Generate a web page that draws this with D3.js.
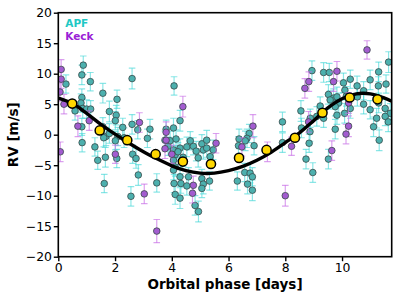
<!DOCTYPE html>
<html>
<head>
<meta charset="utf-8">
<script src="https://cdn.jsdelivr.net/npm/d3@7"></script>
<style>
  body { margin: 0; background: #fff; }
  text { font-family: "DejaVu Sans", sans-serif; }
</style>
</head>
<body>
<div class="chart"></div>
<script>
// APF velocities: [phase (days), rv (m/s), error]
var apfData = [
  [0.27, 8.3, 1.5], [0.88, 11.4, 1.5], [0.83, 9.8, 1.6], [1.13, 8.7, 1.5], [2.60, 9.2, 1.7],
  [1.57, 6.8, 1.6], [2.07, 5.8, 1.5], [0.83, 6.1, 1.4], [0.80, 5.2, 1.5], [0.86, 4.3, 1.6],
  [1.00, 4.2, 1.5], [1.14, 4.2, 1.4], [1.80, 3.8, 1.7], [2.04, 3.2, 1.6], [2.01, 2.3, 1.5],
  [2.27, 1.2, 1.5], [2.60, 1.7, 1.6], [2.80, 0.8, 1.5], [0.83, 1.3, 1.4], [1.57, 1.3, 1.5],
  [1.68, -0.3, 1.5], [1.80, 0.2, 1.6], [2.10, -0.3, 1.5], [0.84, -1.3, 1.5], [1.39, -4.2, 1.5],
  [1.66, -3.7, 1.6], [2.06, -3.9, 1.5], [1.62, -8.0, 1.5], [2.56, -10.1, 1.6], [2.82, -6.6, 1.7],
  [2.62, -3.2, 1.5], [2.74, -3.9, 1.6], [1.60, -0.5, 1.5], [2.01, -1.0, 1.5], [0.59, 3.9, 1.5],
  [1.29, -2.0, 1.5], [2.32, -0.5, 1.6], [3.14, -0.6, 1.5], [3.23, 0.9, 1.6], [3.76, -0.9, 1.5],
  [4.06, -2.5, 1.6], [4.12, -3.3, 1.5], [4.06, -4.2, 1.6], [4.29, -2.2, 1.5], [4.53, -2.0, 1.6],
  [4.76, -1.9, 1.4], [5.06, -1.5, 1.5], [5.23, -0.9, 1.6], [5.11, -2.5, 1.5], [5.23, -2.2, 1.5],
  [5.35, -3.6, 1.6], [4.12, -5.3, 1.5], [4.06, -5.8, 1.6], [4.29, -6.9, 1.6], [4.59, -6.9, 1.5],
  [4.08, -8.0, 1.5], [4.32, -8.0, 1.6], [4.53, -8.4, 1.5], [5.06, -7.2, 1.5], [5.11, -8.1, 1.6],
  [5.33, -7.6, 1.5], [5.06, -8.8, 1.5], [4.12, -9.8, 1.6], [4.29, -10.4, 1.7], [4.82, -11.6, 1.6],
  [4.94, -12.6, 1.7], [3.47, -7.9, 1.5], [4.08, 8.0, 1.5], [4.29, 2.3, 1.7], [4.06, 1.1, 1.6],
  [3.80, 0.9, 1.5], [3.87, -1.9, 1.5], [3.94, -1.0, 1.6], [4.22, -2.8, 1.5], [4.40, -3.7, 1.5],
  [4.86, -2.7, 1.6], [4.93, -3.8, 1.5], [5.46, -2.5, 1.6], [4.65, -1.0, 1.5], [4.15, -0.7, 1.5],
  [6.73, 0.2, 1.5], [6.65, -0.6, 1.5], [6.37, -0.7, 1.6], [7.90, 2.1, 1.6], [8.55, 3.9, 1.7],
  [8.57, 1.1, 1.6], [6.35, -1.8, 1.5], [6.90, -1.8, 1.5], [6.59, -1.0, 1.6], [6.31, -7.6, 1.5],
  [6.57, -6.2, 1.5], [6.76, -6.3, 1.6], [6.84, -6.9, 1.5], [6.67, -8.1, 1.6], [6.84, -9.1, 1.7],
  [7.90, -1.3, 1.6], [8.73, -4.0, 1.6], [8.97, -6.2, 1.6], [8.84, -1.4, 1.5], [8.87, 0.5, 1.6],
  [8.88, 2.7, 1.5], [8.94, 10.5, 1.6], [9.35, 10.2, 1.6], [9.55, 10.2, 1.5], [10.05, 8.5, 1.6],
  [10.29, 9.1, 1.5], [10.53, 8.0, 1.6], [10.76, 7.2, 1.5], [10.99, 9.0, 1.6], [11.29, 10.3, 1.6],
  [11.55, 8.3, 1.5], [11.64, 11.9, 1.7], [9.52, 6.6, 1.6], [9.70, 6.0, 1.5], [9.82, 6.2, 1.6],
  [9.58, 5.7, 1.5], [9.88, 5.2, 1.6], [9.76, 4.6, 1.5], [10.76, 5.0, 1.6], [10.99, 4.1, 1.5],
  [11.29, 5.2, 1.6], [11.52, 4.3, 1.5], [11.70, 3.5, 1.6], [11.52, 3.0, 1.5], [10.29, 4.3, 1.6],
  [9.82, 3.2, 1.5], [10.09, 3.5, 1.6], [9.11, 3.0, 1.6], [9.35, 2.7, 1.5], [11.11, 1.3, 1.6],
  [9.76, 0.9, 1.6], [11.31, -0.9, 1.7], [9.52, -4.0, 1.6], [10.10, 7.3, 1.6], [11.28, 8.0, 1.5],
  [11.22, 2.7, 1.6], [11.63, 2.1, 1.6], [10.54, 6.2, 1.5], [10.15, 6.3, 1.6], [9.23, 4.7, 1.5]
];

// Keck velocities: [phase (days), rv (m/s), error]
var keckData = [
  [0.10, 10.7, 1.6], [0.10, 9.1, 1.5], [0.06, 7.0, 1.5], [0.07, -2.8, 1.6], [0.69, 1.4, 1.7],
  [1.09, 2.3, 1.6], [2.01, -3.2, 1.5], [2.86, 2.0, 1.6], [3.03, -9.7, 1.6], [3.47, -15.8, 1.9],
  [0.20, 5.0, 1.6], [3.76, -2.3, 1.6], [4.00, -3.2, 1.5], [5.56, -1.4, 1.6], [4.76, -8.3, 1.5],
  [4.73, -9.6, 1.6], [4.39, 4.6, 1.7], [3.80, 0.4, 1.7], [3.80, -0.9, 1.6], [6.86, 1.4, 1.9],
  [6.47, -2.0, 1.5], [7.37, -2.8, 1.6], [8.22, -1.9, 1.5], [8.00, -10.0, 1.7], [8.69, 7.6, 1.6],
  [8.83, 8.7, 1.6], [8.82, 2.1, 1.7], [10.88, 13.9, 1.5], [9.82, 10.4, 1.6], [9.70, 8.7, 1.6],
  [10.23, 5.2, 1.7], [10.23, 1.4, 1.7], [10.14, 0.1, 1.6], [9.64, -2.6, 1.6]
];

// binned velocities
var binPhase = [0.49, 1.46, 2.43, 3.43, 4.39, 5.38, 6.37, 7.34, 8.34, 9.31, 10.27, 11.25];
var binRv = [5.1, 0.7, -0.9, -3.2, -4.4, -4.8, -3.8, -2.5, -0.5, 3.6, 6.1, 5.8];

// model curve
var modelPhase = [0, 0.5, 1, 1.5, 2, 2.5, 3, 3.5, 4, 4.5, 5, 5.5, 6, 6.5, 7, 7.5, 8, 8.5, 9, 9.5, 10, 10.5, 11, 11.5, 11.75];
var modelRv = [6.0, 5.1, 3.5, 1.7, 0.1, -1.4, -2.8, -4.0, -5.1, -5.9, -6.3, -6.3, -5.9, -5.2, -4.2, -2.9, -1.3, 0.3, 2.3, 4.4, 5.9, 6.7, 6.7, 6.0, 5.5];

var xTicks = [0, 2, 4, 6, 8, 10];
var yTicks = [-20, -15, -10, -5, 0, 5, 10, 15, 20];

var svgWidth = 399, svgHeight = 299;
var margin = { top: 12.7, right: 7.3, bottom: 42.3, left: 58.3 };
var width = svgWidth - margin.left - margin.right;
var height = svgHeight - margin.top - margin.bottom;

var svg = d3.select('.chart').append('svg')
  .attr('width', svgWidth)
  .attr('height', svgHeight);

var chart = svg.append('g')
  .attr('transform', 'translate(' + margin.left + ',' + margin.top + ')');

var x = d3.scaleLinear().domain([0, 11.75]).range([0, width]);
var y = d3.scaleLinear().domain([-20, 20]).range([height, 0]);

svg.append('defs').append('clipPath').attr('id', 'clip')
  .append('rect').attr('width', width).attr('height', height);

var plot = chart.append('g').attr('clip-path', 'url(#clip)');

function drawSeries(data, barColor, fill, cls) {
  var g = plot.append('g').attr('class', cls);
  var bars = g.selectAll('.eb').data(data).enter().append('g').attr('class', 'eb')
    .attr('stroke', barColor).attr('stroke-width', 1.2);
  bars.append('line')
    .attr('x1', function(d) { return x(d[0]); })
    .attr('x2', function(d) { return x(d[0]); })
    .attr('y1', function(d) { return y(d[1] - d[2]); })
    .attr('y2', function(d) { return y(d[1] + d[2]); });
  [-1, 1].forEach(function(s) {
    bars.append('line')
      .attr('x1', function(d) { return x(d[0]) - 3.3; })
      .attr('x2', function(d) { return x(d[0]) + 3.3; })
      .attr('y1', function(d) { return y(d[1] + s * d[2]); })
      .attr('y2', function(d) { return y(d[1] + s * d[2]); });
  });
  g.selectAll('circle').data(data).enter().append('circle')
    .attr('cx', function(d) { return x(d[0]); })
    .attr('cy', function(d) { return y(d[1]); })
    .attr('r', 3.3)
    .attr('fill', fill)
    .attr('stroke', '#3a4a4a')
    .attr('stroke-width', 0.8);
}

drawSeries(apfData, 'rgba(64,214,214,0.6)', '#4cb0ae', 'apf');
drawSeries(keckData, 'rgba(200,110,230,0.65)', '#a35cd0', 'keck');

var modelLine = d3.line()
  .x(function(d, i) { return x(modelPhase[i]); })
  .y(function(d) { return y(d); })
  .curve(d3.curveCatmullRom);

plot.append('path')
  .datum(modelRv)
  .attr('d', modelLine)
  .attr('fill', 'none')
  .attr('stroke', '#000')
  .attr('stroke-width', 3.4);

plot.selectAll('.bin').data(binRv).enter().append('circle')
  .attr('class', 'bin')
  .attr('cx', function(d, i) { return x(binPhase[i]); })
  .attr('cy', function(d) { return y(d); })
  .attr('r', 4.6)
  .attr('fill', '#ffd700')
  .attr('stroke', '#000')
  .attr('stroke-width', 1.5);

// axes
var xAxis = chart.append('g')
  .attr('transform', 'translate(0,' + height + ')')
  .call(d3.axisBottom(x).tickValues(xTicks).tickSize(4.5).tickPadding(2.2));
var yAxis = chart.append('g')
  .call(d3.axisLeft(y).tickValues(yTicks).tickSize(4.5).tickPadding(1.8));

[xAxis, yAxis].forEach(function(a) {
  a.select('.domain').remove();
  a.selectAll('.tick line').attr('stroke', '#000').attr('stroke-width', 1.4);
  a.selectAll('.tick text')
    .attr('fill', '#000')
    .style('font-size', '12.4px')
    .style('font-family', '"DejaVu Sans", sans-serif');
});

chart.append('rect')
  .attr('width', width)
  .attr('height', height)
  .attr('fill', 'none')
  .attr('stroke', '#000')
  .attr('stroke-width', 1.6);

// legend labels
chart.append('text').attr('x', 7).attr('y', 14.5)
  .text('APF')
  .attr('fill', '#1ec8c4')
  .style('font-weight', 'bold')
  .style('font-size', '10.5px');
chart.append('text').attr('x', 7).attr('y', 27)
  .text('Keck')
  .attr('fill', '#9a22d6')
  .style('font-weight', 'bold')
  .style('font-size', '10.5px');

// axis titles
svg.append('text')
  .attr('x', margin.left + width / 2)
  .attr('y', 289)
  .attr('text-anchor', 'middle')
  .style('font-weight', 'bold')
  .style('font-size', '13.5px')
  .text('Orbital phase [days]');

svg.append('text')
  .attr('transform', 'translate(17.5,' + (margin.top + height / 2) + ') rotate(-90)')
  .attr('text-anchor', 'middle')
  .style('font-weight', 'bold')
  .style('font-size', '13.5px')
  .text('RV [m/s]');
</script>
</body>
</html>
